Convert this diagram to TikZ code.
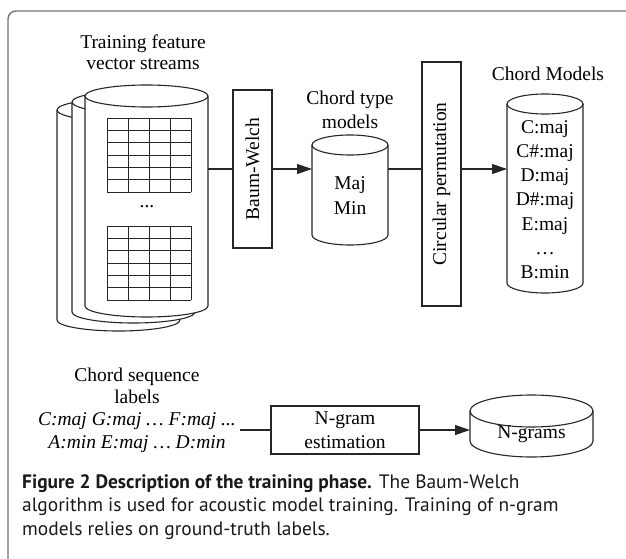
\documentclass[tikz,border=0pt]{standalone}
\usepackage{fontspec}
\setmainfont{Liberation Serif}
\newfontfamily\capfont{PT Sans}
\usepackage{graphicx}
\usetikzlibrary{arrows.meta, backgrounds}

\tikzset{
  link/.style={draw=black!85, line width=1.1pt},
  arrow/.style={link, -{Triangle[length=15pt,width=10pt]}},
  procbox/.style={draw=black!85, line width=1.1pt, fill=white, inner sep=0pt,
    minimum width=39pt, align=center, text=black, font=\fontsize{19.5}{23.5}\selectfont},
  drumbody/.style={inner sep=0pt, outer sep=0pt},
  drumline/.style={draw=black!85, line width=1.1pt, fill=white},
  gridline/.style={draw=black!85, line width=0.9pt},
  frame/.style={draw=black!55, line width=1.4pt, rounded corners=8pt},
  txt/.style={align=center, inner sep=0pt, text=black,
    font=\fontsize{19.5}{24}\selectfont},
}

% cylinder outline around a body node: #1 node, #2 x radius, #3 y radius
\newcommand{\drum}[3]{%
  \draw[drumline] (#1.north west) -- (#1.south west)
    arc[start angle=180, end angle=360, x radius=#2, y radius=#3]
    -- (#1.north east)
    arc[start angle=0, end angle=180, x radius=#2, y radius=#3] -- cycle;
  \draw[drumline, fill=none] (#1.north west)
    arc[start angle=180, end angle=360, x radius=#2, y radius=#3];
}

\begin{document}
\begin{tikzpicture}[x=1pt, y=1pt]
\useasboundingbox (0,0) rectangle (626,-559);

% frame
\draw[frame] (626,-11) -- (8,-11) -- (8,-559);

% feature vector streams (three stacked cylinders)
\node[drumbody, minimum width=123pt, minimum height=210pt] (fts3) at (118.5,-215) {};
\node[drumbody, minimum width=123pt, minimum height=210pt] (fts2) at (133.5,-207) {};
\node[drumbody, minimum width=123pt, minimum height=210pt] (fts) at (146.5,-201) {};
\begin{scope}[on background layer]
  \drum{fts3}{61.5pt}{11pt}
  \drum{fts2}{61.5pt}{11pt}
  \drum{fts}{61.5pt}{11pt}
\end{scope}
\node[txt, font=\fontsize{19.5}{21}\selectfont] (ftstitle) at (143,-52) {Training feature\\vector streams};

% feature matrices
\draw[gridline, shift={(107,-192)}] (0,0) grid[xstep=21pt, ystep=12.3pt] (84.1,73.9);
\draw[gridline, shift={(107,-300)}] (0,0) grid[xstep=21pt, ystep=12.3pt] (84.1,73.9);
\node[txt] (dots) at (147,-207) {...};

% training boxes
\node[procbox, minimum height=158pt] (bw) at (252.5,-169) {\rotatebox{90}{Baum-Welch}};
\node[procbox, minimum height=244pt] (cp) at (441.5,-184) {\rotatebox{90}{Circular permutation}};

% chord type models
\node[drumbody, minimum width=76pt, minimum height=90pt] (ctm) at (350,-190) {};
\begin{scope}[on background layer]
  \drum{ctm}{38pt}{10pt}
\end{scope}
\node[txt] (ctmtitle) at (350,-110) {Chord type\\models};
\node[txt, font=\fontsize{19.5}{25}\selectfont] (ctmtxt) at (350,-196) {Maj\\Min};

% chord models
\node[drumbody, minimum width=76pt, minimum height=179pt] (chm) at (545,-193.5) {};
\begin{scope}[on background layer]
  \drum{chm}{38pt}{10pt}
\end{scope}
\node[txt] (chmtitle) at (548,-74) {Chord Models};
\node[txt, font=\fontsize{19.5}{24.2}\selectfont] (chmtxt) at (545,-199.5)
  {C:maj\\C\#:maj\\D:maj\\D\#:maj\\E:maj\\…\\B:min};

% n-gram part
\node[txt, font=\fontsize{19.5}{22.3}\selectfont] (seq) at (137,-410)
  {Chord sequence\\labels\\\textit{C:maj G:maj … F:maj ...}\\\textit{A:min E:maj … D:min}};
\node[procbox, minimum width=148pt, minimum height=48pt] (ng) at (345,-430) {N-gram\\estimation};
\node[drumbody, minimum width=123pt, minimum height=30pt] (ngr) at (531.5,-426) {};
\begin{scope}[on background layer]
  \drum{ngr}{61.5pt}{16pt}
\end{scope}
\node[txt] (ngrtxt) at (531.5,-434) {N-grams};

% connectors
\draw[link] (fts.east |- bw) -- (bw);
\draw[arrow] (bw) -- (bw -| ctm.west);
\draw[link] (bw -| ctm.east) -- (bw -| cp.west);
\draw[arrow] (bw -| cp.east) -- (bw -| chm.west);
\draw[link] ([xshift=4pt]seq.east |- ng) -- (ng);
\draw[arrow] (ng) -- (ng -| ngr.west);

% caption
\node[anchor=north west, align=left, inner sep=0pt, text=black!90,
  font=\capfont\fontsize{19.4}{23.5}\selectfont] (caption) at (22,-474)
  {\textbf{Figure 2 Description of the training phase.} The Baum-Welch\\
   algorithm is used for acoustic model training. Training of n-gram\\
   models relies on ground-truth labels.};
\end{tikzpicture}
\end{document}
